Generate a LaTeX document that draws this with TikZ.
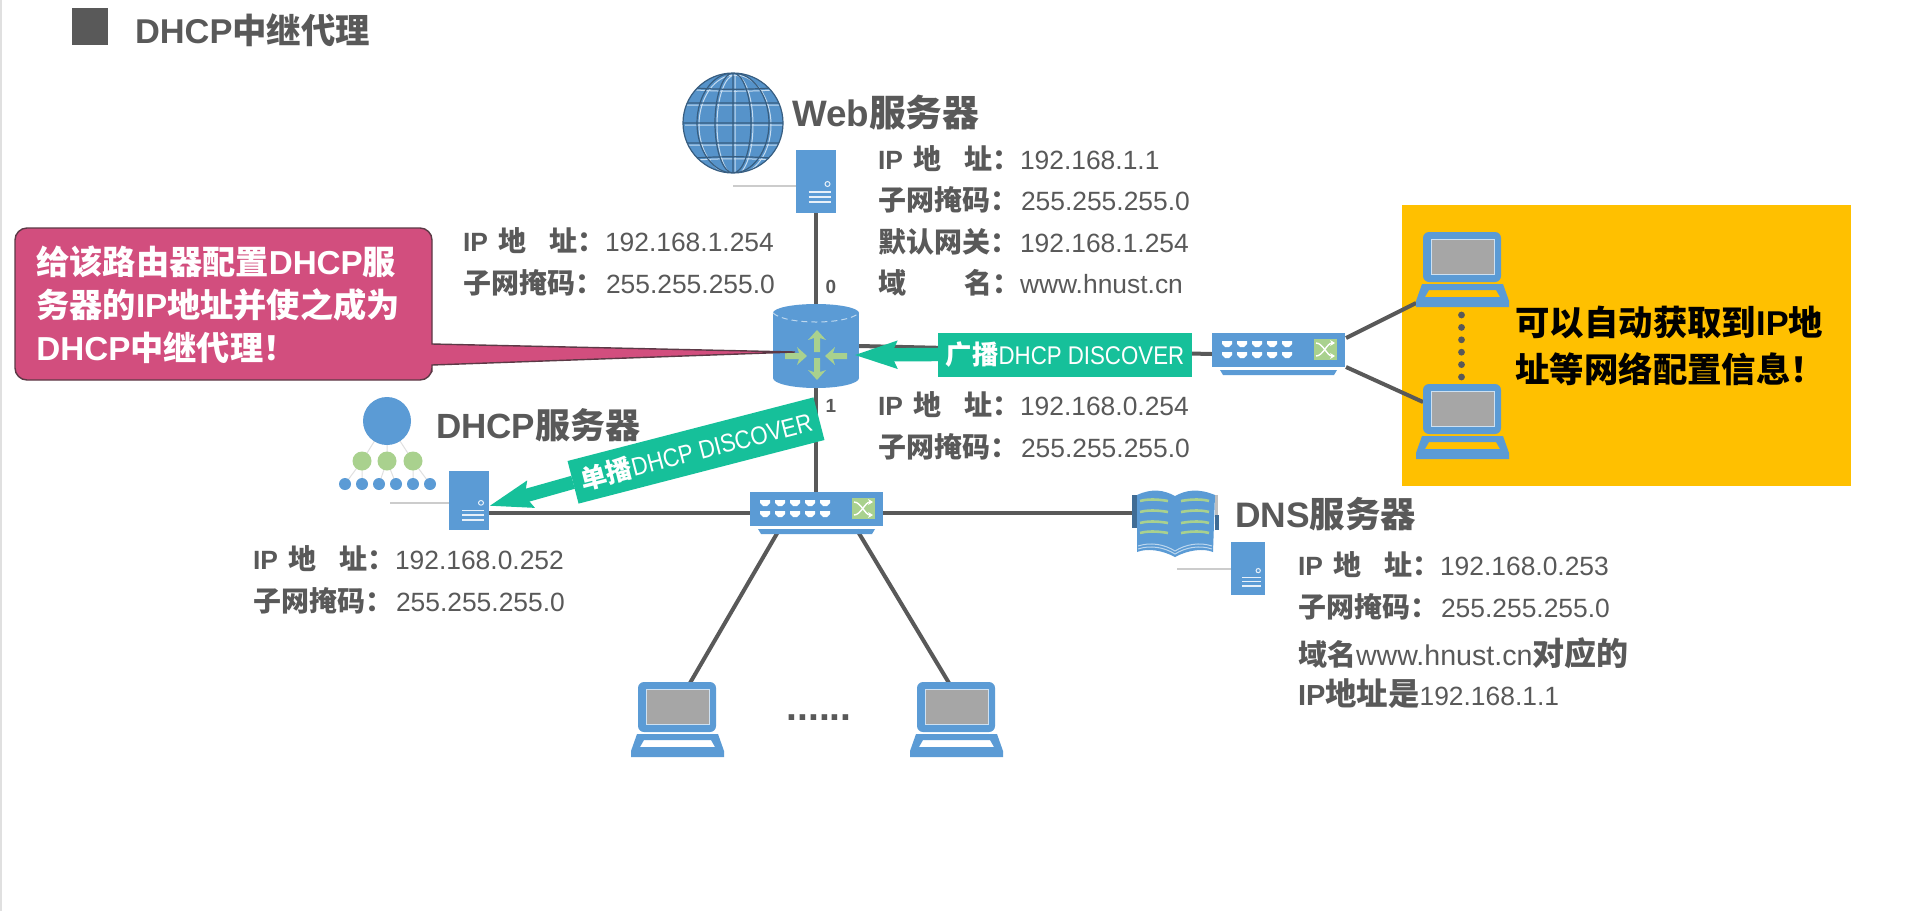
\documentclass[tikz,border=0pt]{standalone}
\usepackage{fontspec}
\usetikzlibrary{arrows.meta,calc}
\setmainfont{Liberation Sans}
\newfontfamily\cjk{Noto Sans CJK SC}
\newfontfamily\nar[FakeStretch=0.87]{Liberation Sans}
\definecolor{devblue}{HTML}{5B9BD5}
\definecolor{devgreen}{HTML}{A9D18E}
\definecolor{ink}{HTML}{595959}
\definecolor{teal}{HTML}{16C09A}
\definecolor{pinknote}{HTML}{D24E7E}
\definecolor{panel}{HTML}{FFC000}
\definecolor{screen}{HTML}{A6A6A6}
\newcommand\Z[1]{{\cjk\bfseries #1}}
\newcommand\ZS[2]{{\fontsize{#1}{#1}\selectfont\cjk\bfseries #2}}
\newcommand\IPL{\hbox to 71pt{{\bfseries IP}\hskip 0pt plus 1fil\ZS{14}{地}\hskip 0pt plus 2fil\ZS{14}{址：}}}
\newcommand\YML{\hbox to 71pt{\ZS{14}{域}\hfil\ZS{14}{名：}}}
\newcommand\MASK{\hbox to 71.5pt{\ZS{14}{子网掩码：}\hfil}}
\newcommand\GATE{\hbox to 71pt{\ZS{14}{默认网关：}\hfil}}
\tikzset{
  dev/.style 2 args={inner sep=0pt,outer sep=0pt,minimum width=#1*0.5pt,minimum height=#2*0.5pt},
  info/.style={inner sep=0pt,outer sep=0pt,anchor=west,align=left,text=ink,font=\fontsize{13.2}{20.7}\selectfont},
  head/.style={inner sep=0pt,outer sep=0pt,anchor=west,text=ink,font=\fontsize{17.5}{20}\selectfont\bfseries},
  wire/.style={draw=ink,line width=2pt},
  thinwire/.style={draw=black!20,line width=0.8pt},
  tealbox/.style={fill=teal,text=white,inner sep=0pt,outer sep=0pt,minimum width=127pt,minimum height=22pt,font=\fontsize{12.8}{14}\selectfont},
  tealarrow/.style={draw=teal,line width=6.7pt,-{Stealth[length=21pt,width=13pt,inset=2.5pt]}},
  portnum/.style={inner sep=0pt,text=ink,font=\fontsize{9.5}{11}\selectfont\bfseries},
  serverpic/.pic={
    \fill[devblue] (0,0) rectangle (40,63);
    \draw[white!85!devblue,line width=0.5pt] (32,34) circle (2.5);
    \draw[white!85!devblue,line width=0.8pt] (13,42)--(35,42) (13,47)--(35,47) (13,52)--(35,52);
  },
  laptoppic/.pic={
    \fill[devblue,rounded corners=3pt] (0,0) rectangle (78,50);
    \fill[screen,draw=white!70!devblue,line width=0.5pt] (8,7) rectangle (71,42);
    \fill[devblue,even odd rule] (-1,52)--(80,52)--(86,69)--(86,75)--(-7,75)--(-7,69)--cycle
      (6,58)--(73,58)--(77,65)--(2,65)--cycle;
  },
  switchpic/.pic={
    \fill[devblue] (0,0) rectangle (133,34);
    \fill[devblue] (8,37)--(125,37)--(122,42)--(11,42)--cycle;
    \foreach \px in {15,30,45,60,75}{\foreach \py in {11,22}{
      \fill[white] ({\px-5},{\py-3})--({\px+5},{\py-3})--({\px+5},{\py})--({\px+2},{\py+3})--({\px-2},{\py+3})--({\px-5},{\py})--cycle;
    }}
    \fill[devgreen] (102,6) rectangle (125,27);
    \draw[white,line width=0.7pt,-{Stealth[length=2.5pt,width=3pt]}] (104,10) .. controls (111,10) and (115,23) .. (123,23);
    \draw[white,line width=0.7pt,-{Stealth[length=2.5pt,width=3pt]}] (104,23) .. controls (111,23) and (115,10) .. (123,10);
  },
  chevron/.pic={
    \fill[devgreen] (0,-11)--(9,-1)--(3,-3)--(3,11)--(-3,11)--(-3,-3)--(-9,-1)--cycle;
  },
  routerpic/.pic={
    \fill[devblue] (-43,0) rectangle (43,65);
    \fill[devblue] (0,0) ellipse [x radius=43,y radius=9];
    \fill[devblue] (0,65) ellipse [x radius=43,y radius=10];
    \draw[white!60!devblue,line width=0.5pt,densely dashed] (-43,0) .. controls (-30,12) and (30,12) .. (43,0);
    \pic at (1,28) {chevron};
    \pic[rotate=180] at (1,56) {chevron};
    \pic[rotate=-90] at (-20,43) {chevron};
    \pic[rotate=90] at (20,43) {chevron};
  },
  globepic/.pic={
    \fill[devblue!95!black] (0,0) circle (50);
    \begin{scope}
      \clip (0,0) circle (50);
      \begin{scope}[shift={(2,2)}]
        \draw[white!65!devblue,line width=0.5pt] (0,-50)--(0,50)
          (0,0) ellipse [x radius=18,y radius=50]
          (0,0) ellipse [x radius=36,y radius=50]
          (-50,-36) .. controls (-20,-33) and (20,-33) .. (50,-36)
          (-50,-20)--(50,-20) (-50,0)--(50,0) (-50,20)--(50,20)
          (-50,36) .. controls (-20,33) and (20,33) .. (50,36);
      \end{scope}
      \draw[devblue!60!black,line width=0.6pt] (0,-50)--(0,50)
        (0,0) ellipse [x radius=18,y radius=50]
        (0,0) ellipse [x radius=36,y radius=50]
        (-50,-36) .. controls (-20,-33) and (20,-33) .. (50,-36)
        (-50,-20)--(50,-20) (-50,0)--(50,0) (-50,20)--(50,20)
        (-50,36) .. controls (-20,33) and (20,33) .. (50,36);
    \end{scope}
    \draw[devblue!60!black,line width=0.6pt] (0,0) circle (50);
  },
  dhcppic/.pic={
    \draw[black!12,line width=0.5pt] (0,0)--(-25,40) (0,0)--(0,40) (0,0)--(26,40)
      (-25,40)--(-42,63) (-25,40)--(-25,63) (0,40)--(-8,63) (0,40)--(9,63) (26,40)--(26,63) (26,40)--(43,63);
    \fill[devblue] (0,0) circle (24);
    \foreach \cx in {-25,0,26}{\fill[devgreen] (\cx,40) circle (9.5);}
    \foreach \cx in {-42,-25,-8,9,26,43}{\fill[devblue] (\cx,63) circle (6);}
  },
  bookpic/.pic={
    \fill[devblue!70!black] (0,5) rectangle (5,38);
    \fill[devblue!70!black] (83,25) rectangle (87,40);
    \fill[black!25] (83,5) rectangle (86,25);
    \fill[devblue] (5,5) .. controls (20,-2) and (32,0) .. (43,6) -- (43,67) .. controls (30,60) and (15,58) .. (5,62) -- cycle;
    \fill[devblue] (83,5) .. controls (66,-2) and (54,0) .. (43,6) -- (43,67) .. controls (56,60) and (71,58) .. (81,62) -- cycle;
    \foreach \ry in {11,22,33,43}{
      \draw[devgreen,line width=1.3pt] (8,\ry) .. controls (15,{\ry-2}) and (25,{\ry-2}) .. (36,\ry);
      \draw[devgreen,line width=1.3pt] (49,\ry) .. controls (60,{\ry-2}) and (70,{\ry-2}) .. (77,\ry);
    }
    \draw[white!60!devblue,line width=0.5pt] (6,56) .. controls (18,52) and (32,54) .. (43,61) .. controls (54,54) and (68,52) .. (80,56);
    \draw[white!60!devblue,line width=0.5pt] (6,59) .. controls (18,55) and (32,57) .. (43,64) .. controls (54,57) and (68,55) .. (80,59);
  },
}
\begin{document}
\begin{tikzpicture}[x=0.5pt,y=-0.5pt]
\useasboundingbox (0,0) rectangle (1920,911);
\fill[white] (0,0) rectangle (1920,911);
\fill[black!12] (0,0) rectangle (2,911);

% title
\fill[ink] (72,8) rectangle (108,45);
\node[head,font=\fontsize{17.2}{20}\selectfont\bfseries] (title) at (135,30) {DHCP\Z{中继代理}};

% yellow panel
\node[dev={449}{281},fill=panel] (panelbox) at (1626.5,345) {};

% device placeholders
\node[dev={100}{100}] (globe) at (733,123) {};
\node[dev={40}{63}] (web) at (815.5,181.5) {};
\node[dev={86}{84}] (router) at (816,346) {};
\node[dev={133}{42}] (swR) at (1278.5,354) {};
\node[dev={133}{42}] (swB) at (816.5,513) {};
\node[dev={40}{59}] (dhcp) at (469,500.5) {};
\node[dev={86}{67}] (book) at (1175,523.5) {};
\node[dev={34}{53}] (dns) at (1248,568.5) {};
\node[dev={93}{75}] (lapL) at (677.5,719.5) {};
\node[dev={93}{75}] (lapM) at (956.5,719.5) {};
\node[dev={93}{77}] (lapA) at (1461.5,270.5) {};
\node[dev={93}{75}] (lapC) at (1461.5,421.5) {};

\coordinate (webstub) at (733,186);
\coordinate (dhcpstub) at (390,503);
\coordinate (dnsstub) at (1177,569);
\coordinate (notetip) at (795,352);
\coordinate (bcasttip) at (854,355);
\coordinate (ucasttip) at (489,506);
\coordinate (swRup) at (1346,338);
\coordinate (swRdn) at (1346,367);
\coordinate (lapAin) at (1416,303);
\coordinate (lapCin) at (1423,402);
\coordinate (swBl) at (779,530);
\coordinate (swBr) at (857,530);
\coordinate (lapLin) at (690,683);
\coordinate (lapMin) at (949,683);

% connectors
\draw[thinwire] (webstub) -- (web.west |- webstub);
\draw[thinwire] (dhcpstub) -- (dhcp.west |- dhcpstub);
\draw[thinwire] (dnsstub) -- (dns.west |- dnsstub);
\draw[wire] (router.north |- web.south) -- (router.north);
\draw[wire] (router.south) -- (router.south |- swB.north);
\draw[wire] (router.east) -- (swR.west);
\draw[wire] (dhcp.east |- swB) -- (swB.west);
\draw[wire] (swB.east) -- (book.west |- swB);
\draw[wire] (swBl) -- (lapLin);
\draw[wire] (swBr) -- (lapMin);
\draw[wire] (swRup) -- (lapAin);
\draw[wire] (swRdn) -- (lapCin);
\draw[draw=ink,line width=3.4pt,line cap=round,dash pattern=on 0pt off 6.2pt] (lapA.south |- 0,315) -- (lapC.north |- 0,378);

% icons
\pic at (globe) {globepic};
\pic at (web.north west) {serverpic};
\pic[yscale=59/63] at (dhcp.north west) {serverpic};
\pic[xscale=0.85,yscale=53/63] at (dns.north west) {serverpic};
\pic at (387,421) {dhcppic};
\pic at (book.north west) {bookpic};
\pic at (816,313) {routerpic};
\pic at (swR.north west) {switchpic};
\pic at (swB.north west) {switchpic};
\pic at (638,682) {laptoppic};
\pic at (917,682) {laptoppic};
\pic at (1423,232) {laptoppic};
\pic at (1423,384) {laptoppic};

% headings
\node[head,font=\fontsize{18.4}{20}\selectfont\bfseries] (webhead) at (792,113) {Web\Z{服务器}};
\node[head] (dhcphead) at (436,425) {DHCP\Z{服务器}};
\node[head,font=\fontsize{17.7}{20}\selectfont\bfseries] (dnshead) at (1235,514) {DNS\Z{服务器}};

% address blocks
\node[info] (webinfo) at (878,221) {\IPL 192.168.1.1\\\MASK 255.255.255.0\\\GATE 192.168.1.254\\\YML www.hnust.cn};
\node[info] (r0info) at (463,262) {\IPL 192.168.1.254\\\MASK 255.255.255.0};
\node[info] (r1info) at (878,426) {\IPL 192.168.0.254\\\MASK 255.255.255.0};
\node[info] (dhcpinfo) at (253,580) {\IPL 192.168.0.252\\\MASK 255.255.255.0};
\node[info] (dnsinfo) at (1298,586) {\IPL 192.168.0.253\\\MASK 255.255.255.0};
\node[info,font=\fontsize{14.3}{20}\selectfont] (dnsnote1) at (1298,653) {\ZS{14.5}{域名}www.hnust.cn\ZS{16}{对应的}};
\node[info,font=\fontsize{13.2}{20}\selectfont] (dnsnote2) at (1298,694) {\fontsize{14.5}{20}\selectfont\bfseries IP\ZS{15.7}{地址是}\fontsize{13.2}{20}\selectfont\mdseries 192.168.1.1};

\node[portnum] (p0) at (831,287) {0};
\node[portnum] (p1) at (831,406) {1};
\node[inner sep=0pt,text=ink,font=\fontsize{19.5}{20}\selectfont\bfseries] (dots) at (819,718) {......};

% teal labels
\node[tealbox] (bcast) at (1065,354.5) {\ZS{13.2}{广播}{\nar DHCP DISCOVER}};
\draw[tealarrow] (bcast.west) -- (bcasttip);
\node[tealbox,rotate=14.5] (ucast) at (696,450.5) {\ZS{13.2}{单播}{\nar DHCP DISCOVER}};
\draw[tealarrow] (ucast.west) -- (ucasttip);

% callout
\draw[fill=pinknote,draw=black!55!pinknote!60!ink,line width=0.7pt,rounded corners=6pt]
  (15,228) -- (432,228) -- (432,330) [sharp corners] -- (432,344) -- (notetip) -- (432,365) -- (432,372) [rounded corners=6pt] -- (432,380) -- (15,380) -- cycle;
\node[inner sep=0pt,anchor=west,align=left,text=white,font=\fontsize{16.6}{21.5}\selectfont\bfseries] (notetext) at (36,305)
  {\Z{给该路由器配置}DHCP\Z{服}\\\Z{务器的}IP\Z{地址并使之成为}\\DHCP\Z{中继代理！}};

% panel text
\node[inner sep=0pt,anchor=west,align=left,text=black,font=\fontsize{17.2}{23.5}\selectfont\bfseries] (paneltext) at (1515,346)
  {\Z{可以自动获取到}IP\Z{地}\\\Z{址等网络配置信息！}};
\end{tikzpicture}
\end{document}
